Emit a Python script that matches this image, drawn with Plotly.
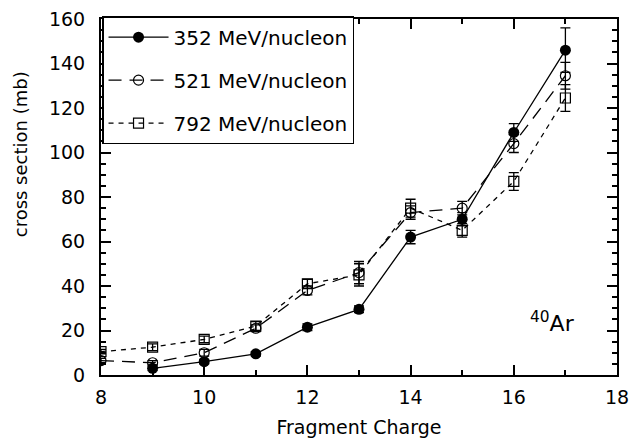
import plotly.graph_objects as go

z352 = [9, 10, 11, 12, 13, 14, 15, 16, 17]
cs352 = [3, 6, 9.5, 21.5, 29.5, 62, 70, 109, 146]
err352 = [1, 1, 1, 1.5, 1.5, 3, 3, 4, 10]

z521 = [8, 9, 10, 11, 12, 13, 14, 15, 16, 17]
cs521 = [6.5, 5.5, 10, 21, 38, 46, 73, 75, 104, 134.5]
err521 = [1, 1, 1.5, 1.5, 2, 5, 3, 3, 4, 6]

z792 = [8, 9, 10, 11, 12, 13, 14, 15, 16, 17]
cs792 = [10.5, 12.5, 16, 22, 41, 45, 75, 65, 87, 124.5]
err792 = [1, 1.5, 1.5, 2, 2, 5, 4, 3, 4, 6]

FONT = "DejaVu Sans"

fig = go.Figure()
fig.add_trace(go.Scatter(
    x=z352, y=cs352, name="352 MeV/nucleon", legendgroup="a",
    mode="lines+markers",
    line=dict(color="black", width=1.3, dash="solid"),
    marker=dict(symbol="circle", size=11, color="black"),
    error_y=dict(type="data", array=err352, color="black", thickness=1.3, width=5),
))
fig.add_trace(go.Scatter(
    x=z521, y=cs521, name="521 MeV/nucleon", legendgroup="b",
    mode="lines+markers",
    line=dict(color="black", width=1.3, dash="13px,8px"),
    marker=dict(symbol="circle-open", size=10, color="black", line=dict(width=1.2)),
    error_y=dict(type="data", array=err521, color="black", thickness=1.3, width=5),
))
fig.add_trace(go.Scatter(
    x=z792, y=cs792, name="792 MeV/nucleon", legendgroup="c",
    mode="lines+markers",
    line=dict(color="black", width=1.3, dash="5px,5px"),
    marker=dict(symbol="square-open", size=10, color="black", line=dict(width=1.2)),
    error_y=dict(type="data", array=err792, color="black", thickness=1.3, width=5),
))

axis_common = dict(
    showline=True, linecolor="black", linewidth=2, mirror="allticks",
    ticks="inside", ticklen=10, tickwidth=2, tickcolor="black",
    showgrid=False, zeroline=False, automargin=False,
    ticklabeloverflow="allow",
    tickfont=dict(family=FONT, size=19, color="black"),
)

fig.update_layout(
    width=630, height=440,
    margin=dict(l=101, r=13, t=19, b=65, autoexpand=False),
    paper_bgcolor="white", plot_bgcolor="white",
    font=dict(family=FONT, size=19, color="black"),
    xaxis=dict(range=[8, 18], dtick=2, tick0=8, ticklabelstandoff=4,
               minor=dict(dtick=1, ticks="inside", ticklen=5, tickwidth=2, tickcolor="black"),
               title=dict(text="Fragment Charge", font=dict(family=FONT, size=19, color="black"), standoff=14),
               **axis_common),
    yaxis=dict(range=[0, 160], dtick=20, tick0=0, ticklabelstandoff=10,
               minor=dict(dtick=5, ticks="inside", ticklen=5, tickwidth=2, tickcolor="black"),
               **axis_common),
    legend=dict(
        x=0.002, y=1.008, xanchor="left", yanchor="top",
        bordercolor="black", borderwidth=1.5, bgcolor="white",
        font=dict(family=FONT, size=20, color="black"),
        tracegroupgap=14, itemwidth=60,
    ),
    showlegend=True,
)

fig.add_annotation(
    text="cross section (mb)", textangle=-90,
    xref="paper", yref="paper", x=-0.157, y=0.62,
    xanchor="center", yanchor="middle", showarrow=False,
    font=dict(family=FONT, size=18, color="black"),
)
fig.add_annotation(
    text="<sup>40</sup>Ar",
    xref="x", yref="y", x=16.75, y=24,
    xanchor="center", yanchor="middle", showarrow=False,
    font=dict(family=FONT, size=22, color="black"),
)

fig.write_html("out.html")
